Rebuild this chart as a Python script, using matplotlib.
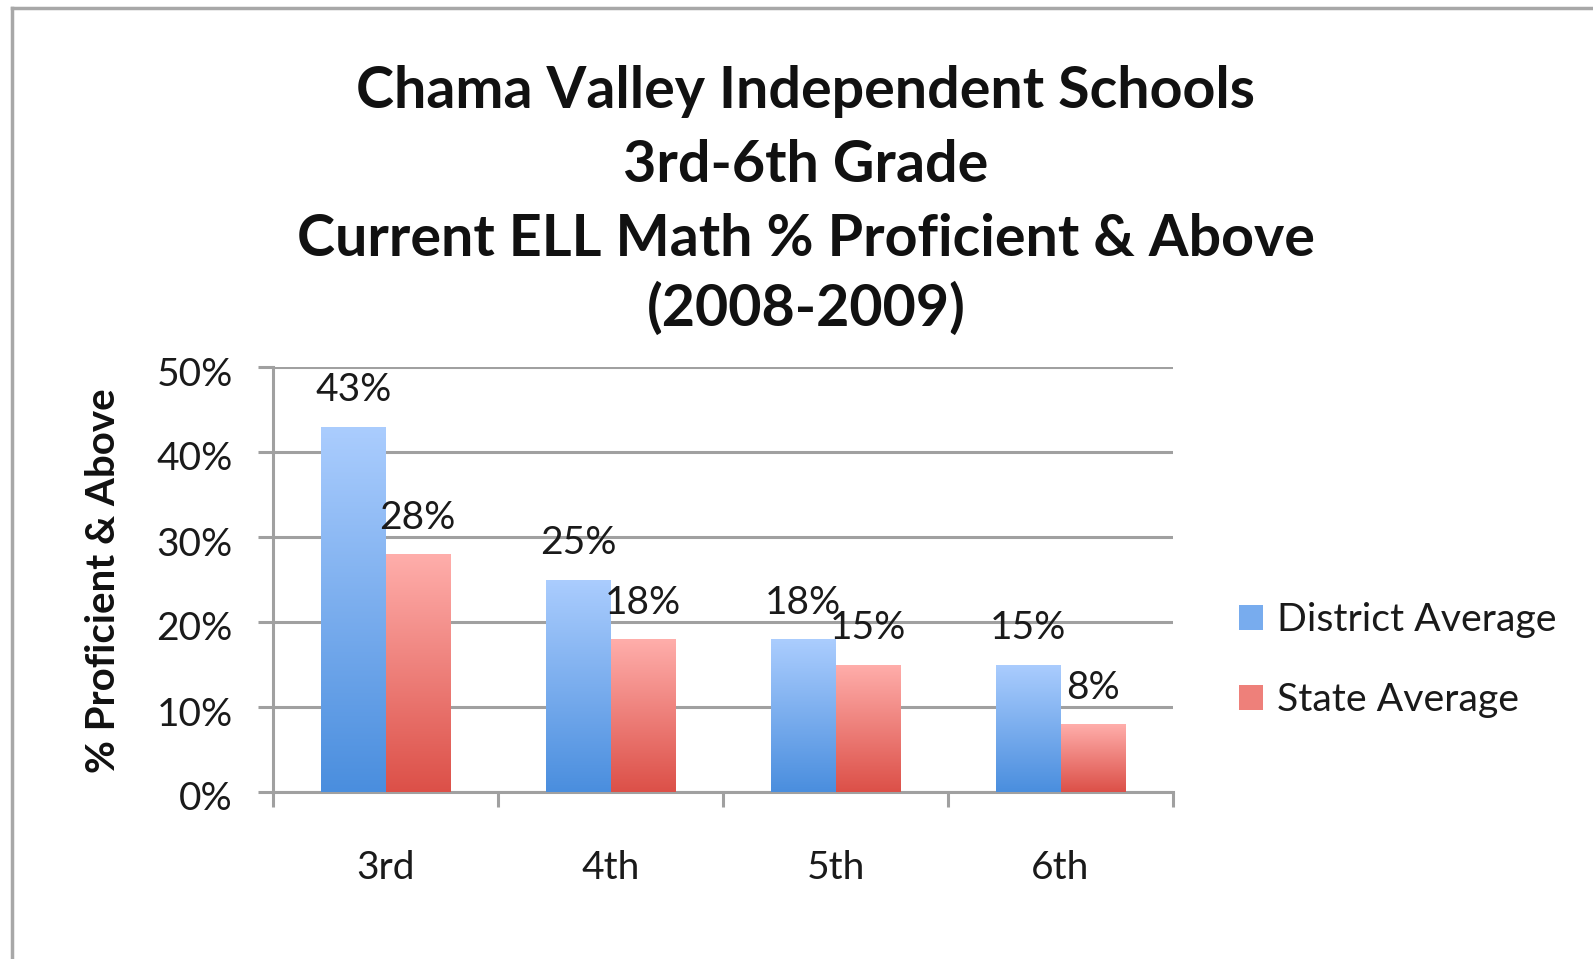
import numpy as np
import matplotlib
matplotlib.use("Agg")
import matplotlib.pyplot as plt
from matplotlib.lines import Line2D
from matplotlib.patches import Patch
from matplotlib.colors import LinearSegmentedColormap
import matplotlib.transforms as mtransforms

categories = ["3rd", "4th", "5th", "6th"]
district = [43, 25, 18, 15]
state = [28, 18, 15, 8]
series_names = ["District Average", "State Average"]
yticks = [0, 10, 20, 30, 40, 50]
title_lines = ["Chama Valley Independent Schools", "3rd-6th Grade",
               "Current ELL Math % Proficient & Above", "(2008-2009)"]
ylabel = "% Proficient & Above"

plt.rcParams['font.family'] = ['Lato', 'DejaVu Sans']

W, H = 1593, 959
fig = plt.figure(figsize=(W / 100, H / 100), dpi=100)
ax = fig.add_axes([273 / W, 1 - 792 / H, (1173 - 273) / W, (792 - 367) / H])

x = np.arange(len(categories))
bw = 1 / 3.5
gridc = "#a0a0a0"
txtc = "#1a1a1a"

blue_cmap = LinearSegmentedColormap.from_list("b", ["#4a8ede", "#abcdfe"])
red_cmap = LinearSegmentedColormap.from_list("r", ["#dc5048", "#ffaeab"])

b1 = ax.bar(x - bw / 2, district, bw, color="none", zorder=3)
b2 = ax.bar(x + bw / 2, state, bw, color="none", zorder=3)

grad = np.linspace(0, 1, 256).reshape(-1, 1)
for bars, cmap in ((b1, blue_cmap), (b2, red_cmap)):
    for r in bars:
        x0, y0, w, h = r.get_x(), r.get_y(), r.get_width(), r.get_height()
        im = ax.imshow(grad, cmap=cmap, origin="lower", aspect="auto",
                       extent=(x0, x0 + w, y0, y0 + h), zorder=3)
        im.set_clip_path(r)

for bars, vals in ((b1, district), (b2, state)):
    for r, v in zip(bars, vals):
        ax.annotate(f"{v}%", (r.get_x() + r.get_width() / 2, v),
                    xytext=(0, 26), textcoords="offset points",
                    ha="center", va="center", fontsize=28, color=txtc, zorder=4)

ax.set_xlim(-0.5, len(categories) - 0.5)
ax.set_ylim(0, 50)
ax.set_yticks(yticks)
ax.set_yticklabels([f"{t}%" for t in yticks])
ax.yaxis.grid(True, color=gridc, linewidth=2.2, zorder=0)
ax.set_axisbelow(True)

ax.set_xticks(np.arange(len(categories) + 1) - 0.5)
ax.set_xticklabels([])
ax.set_xticks(x, minor=True)
ax.set_xticklabels(categories, minor=True)
ax.tick_params(axis="x", which="minor", length=0, pad=42, labelsize=28, labelcolor=txtc)
ax.tick_params(axis="x", which="major", length=11, width=2.2, color=gridc, direction="out")
ax.tick_params(axis="y", length=11, width=2.2, color=gridc, direction="out", pad=18,
               labelsize=28, labelcolor=txtc)
offset = mtransforms.ScaledTranslation(0, -4 / 100, fig.dpi_scale_trans)
for lbl in ax.get_yticklabels():
    lbl.set_transform(lbl.get_transform() + offset)

for s in ("top", "right"):
    ax.spines[s].set_visible(False)
for s in ("left", "bottom"):
    ax.spines[s].set_color(gridc)
    ax.spines[s].set_linewidth(2.2)

fig.text(104 / W, 1 - 581 / H, ylabel, rotation=90, ha="center", va="center",
         fontsize=29, fontweight="bold", color="#111111")

for yy, line in zip([91, 165, 240, 309], title_lines):
    fig.text(806 / W, 1 - yy / H, line, ha="center", va="center",
             fontsize=41.3, fontweight="bold", color="#111111")

handles = [Patch(facecolor="#78acee", edgecolor="none"),
           Patch(facecolor="#ee807a", edgecolor="none")]
fig.legend(handles, series_names, loc="center left", bbox_to_anchor=(1204 / W, 1 - 660 / H),
           frameon=False, fontsize=28.3, handlelength=0.6, handleheight=0.6,
           handletextpad=0.35, labelspacing=1.12, labelcolor=txtc)

fig.add_artist(Line2D([12 / W, 12 / W], [0, 1 - 8 / H], color="#a8a8a8", linewidth=2.5))
fig.add_artist(Line2D([12 / W, 1], [1 - 8 / H, 1 - 8 / H], color="#a8a8a8", linewidth=2.5))

fig.savefig("out.png", dpi=100)
